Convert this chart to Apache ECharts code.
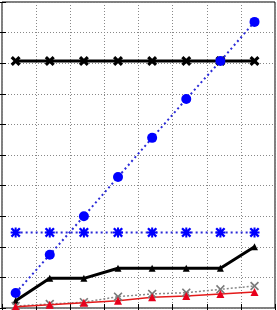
<!DOCTYPE html>
<html>
<head>
<meta charset="utf-8">
<script src="https://cdn.jsdelivr.net/npm/echarts@6/dist/echarts.min.js"></script>
<style>html,body{margin:0;padding:0;background:#fff}#c{width:277px;height:310px}</style>
</head>
<body>
<div id="c"></div>
<script>
var xs = [1, 2, 3, 4, 5, 6, 7, 8];
var blackX = [8.07, 8.07, 8.07, 8.07, 8.07, 8.07, 8.07, 8.07];
var blueCircle = [0.49, 1.74, 3.0, 4.28, 5.56, 6.83, 8.07, 9.35];
var blueStar = [2.47, 2.47, 2.47, 2.47, 2.47, 2.47, 2.47, 2.47];
var blackTri = [0.24, 0.97, 0.97, 1.30, 1.30, 1.30, 1.30, 2.0];
var grayX = [0.065, 0.13, 0.19, 0.37, 0.46, 0.5, 0.61, 0.72];
var redTri = [0.04, 0.11, 0.17, 0.24, 0.35, 0.39, 0.46, 0.52];

function pts(arr) { return xs.map(function (x, i) { return [x, arr[i]]; }); }

var X_THICK = 'path://M0,2.2 L2.2,0 L5,2.8 L7.8,0 L10,2.2 L7.2,5 L10,7.8 L7.8,10 L5,7.2 L2.2,10 L0,7.8 L2.8,5 Z';
var X_THIN = 'path://M0,1.3 L1.3,0 L5,3.7 L8.7,0 L10,1.3 L6.3,5 L10,8.7 L8.7,10 L5,6.3 L1.3,10 L0,8.7 L3.7,5 Z';
var STAR = 'path://M0,1.6 L1.6,0 L5,3.4 L8.4,0 L10,1.6 L6.6,5 L10,8.4 L8.4,10 L5,6.6 L1.6,10 L0,8.4 L3.4,5 Z M4,0 L6,0 L6,4 L10,4 L10,6 L6,6 L6,10 L4,10 L4,6 L0,6 L0,4 L4,4 Z';

var gridSplit = { show: true, lineStyle: { type: [1, 2], color: '#888', width: 1 } };
var tickIn = { show: true, inside: true, length: 4, lineStyle: { color: '#000' } };

var chart = echarts.init(document.getElementById('c'), null, { renderer: 'canvas' });
chart.setOption({
  animation: false,
  backgroundColor: '#fff',
  grid: { left: 2, right: 2, top: 2, bottom: 2, show: true, borderColor: '#000', borderWidth: 1, backgroundColor: 'transparent' },
  xAxis: [
    { type: 'value', min: 0, max: 8, interval: 1, position: 'bottom', axisLabel: { show: false },
      axisLine: { show: false }, axisTick: tickIn, splitLine: gridSplit },
    { type: 'value', min: 0, max: 8, interval: 1, position: 'top', axisLabel: { show: false },
      axisLine: { show: false }, axisTick: tickIn, splitLine: { show: false } },
    { type: 'value', min: 0.6, max: 8.6, show: false, splitLine: { show: false } }
  ],
  yAxis: [
    { type: 'value', min: 0, max: 10, interval: 1, position: 'left', axisLabel: { show: false },
      axisLine: { show: false }, axisTick: tickIn, splitLine: gridSplit },
    { type: 'value', min: 0, max: 10, interval: 1, position: 'right', axisLabel: { show: false },
      axisLine: { show: false }, axisTick: tickIn, splitLine: { show: false } }
  ],
  series: [
    { type: 'line', xAxisIndex: 2, data: pts(blackX), symbol: X_THICK, symbolSize: 10,
      lineStyle: { color: '#000', width: 3 }, itemStyle: { color: '#000' } },
    { type: 'line', xAxisIndex: 2, data: pts(blueCircle), symbol: 'circle', symbolSize: 10,
      lineStyle: { color: '#2a2ad8', width: 2, type: [2, 3] }, itemStyle: { color: '#0000ff' } },
    { type: 'line', xAxisIndex: 2, data: pts(blueStar), symbol: STAR, symbolSize: 10,
      lineStyle: { color: '#2a2ad8', width: 2, type: [2, 3] }, itemStyle: { color: '#0000ff' } },
    { type: 'line', xAxisIndex: 2, data: pts(blackTri), symbol: 'triangle', symbolSize: 7,
      lineStyle: { color: '#000', width: 3 }, itemStyle: { color: '#000' } },
    { type: 'line', xAxisIndex: 2, data: pts(grayX), symbol: X_THIN, symbolSize: 9,
      lineStyle: { color: '#888', width: 1.5, type: [2, 2] }, itemStyle: { color: '#7a7a7a' } },
    { type: 'line', xAxisIndex: 2, data: pts(redTri), symbol: 'triangle', symbolSize: 8,
      lineStyle: { color: '#e41a1a', width: 1.5 }, itemStyle: { color: '#e8001c' } }
  ]
});
</script>
</body>
</html>
